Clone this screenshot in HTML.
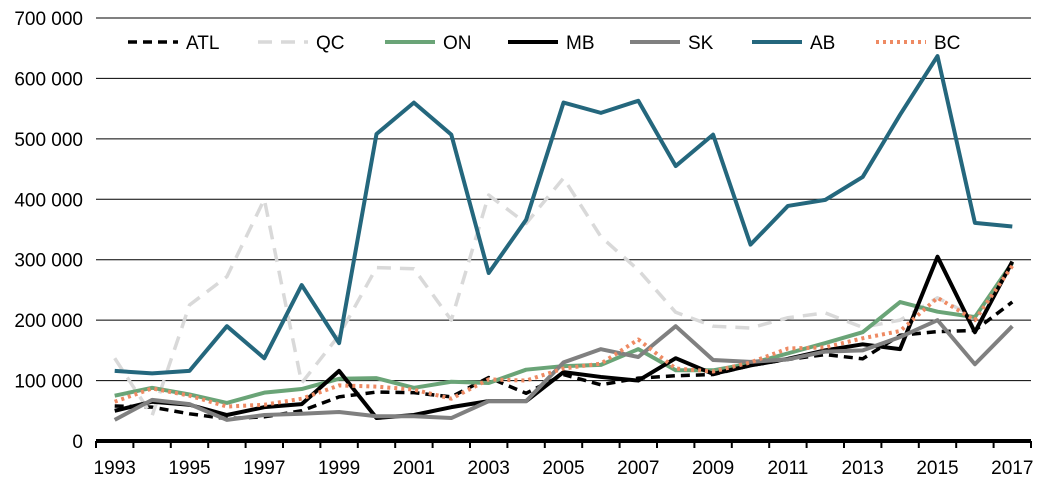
<!DOCTYPE html>
<html><head><meta charset="utf-8"><style>
body{margin:0;background:#fff;}
svg{display:block;font-family:"Liberation Sans",Arial,sans-serif;}
</style></head><body>
<svg id="chart" width="1051" height="480" xmlns="http://www.w3.org/2000/svg">
<g id="grid"></g>
<g id="yaxis"></g>
<g id="xaxis"></g>
<g id="series"></g>
<g id="legend"></g>
</svg>
<script>
const years=[1993,1994,1995,1996,1997,1998,1999,2000,2001,2002,2003,2004,2005,2006,2007,2008,2009,2010,2011,2012,2013,2014,2015,2016,2017];
const yTicks=[0,100000,200000,300000,400000,500000,600000,700000];
const yTickLabels=["0","100 000","200 000","300 000","400 000","500 000","600 000","700 000"];
const ATL=[58,56,45,37,40,50,73,81,80,73,105,79,110,93,104,108,110,125,135,143,136,175,181,183,230];
const QC=[137,42,225,272,400,96,175,287,285,200,407,360,435,338,283,213,190,187,204,212,188,200,237,205,290];
const ON=[75,88,77,63,80,86,103,104,88,98,96,118,124,126,152,117,117,128,145,162,180,230,214,205,295];
const MB=[50,65,60,43,56,61,116,38,43,56,66,66,114,106,100,137,111,125,136,150,160,152,305,180,297];
const SK=[35,68,61,35,43,45,48,41,41,38,66,66,130,152,139,190,134,131,135,148,150,172,200,127,190];
const AB=[116,112,116,190,137,258,162,508,560,507,278,366,560,543,563,455,507,325,389,399,437,540,637,361,355];
const BC=[65,87,75,57,60,70,92,90,85,70,102,100,120,128,168,120,115,130,153,155,170,182,237,200,290];
const seriesNames=["ATL","QC","ON","MB","SK","AB","BC"];
const seriesData=[ATL,QC,ON,MB,SK,AB,BC];
const styles=[
 {c:"#000",w:3.5,d:"9,6"},{c:"#d9d9d9",w:3.5,d:"14,9"},{c:"#6aa477",w:4,d:""},
 {c:"#000",w:4,d:""},{c:"#808080",w:4,d:""},{c:"#24677d",w:4,d:""},{c:"#ee8a63",w:4,d:"3,4"}];
const NS="http://www.w3.org/2000/svg";
const X0=96,X1=1031,Y0=441,Y700=18;
const step=(X1-X0)/years.length;
function xs(i){return X0+step*(i+0.5);}
function ys(v){return Y0-(v/700000)*(Y0-Y700);}
function mk(t,a,p){const e=document.createElementNS(NS,t);for(const k in a)e.setAttribute(k,a[k]);p.appendChild(e);return e;}
const grid=document.getElementById('grid'),ya=document.getElementById('yaxis'),xa=document.getElementById('xaxis'),sg=document.getElementById('series'),lg=document.getElementById('legend');
yTicks.forEach((t,i)=>{
 if(t>0){const l=mk('line',{x1:X0,x2:X1,y1:ys(t),y2:ys(t),stroke:'#000','stroke-width':1},grid);
 
 }
 const tx=mk('text',{x:83,y:ys(t)+7,'text-anchor':'end','font-size':19},ya);tx.textContent=yTickLabels[i];
 
 
});
const ax=mk('line',{x1:X0,x2:X1,y1:Y0,y2:Y0,stroke:'#000','stroke-width':4},xa);


for(let i=0;i<=years.length;i++){const tk=mk('line',{x1:X0+step*i,x2:X0+step*i,y1:Y0,y2:Y0+7,stroke:'#000','stroke-width':2},xa);
 
 }
years.forEach((y,i)=>{if(i%2===0){const t=mk('text',{x:xs(i),y:474,'text-anchor':'middle','font-size':19},xa);t.textContent=y;
 
 }});
seriesData.forEach((d,s)=>{
 const st=styles[s];
 const p=mk('polyline',{points:d.map((v,i)=>xs(i)+','+ys(v*1000)).join(' '),fill:'none',stroke:st.c,'stroke-width':st.w,'stroke-dasharray':st.d,'stroke-linejoin':'round'},sg);
 
 
});
const lx=[128,258,385,508,630,752,876];
seriesNames.forEach((n,s)=>{
 const st=styles[s];
 const g=mk('g',{},lg);
 
 
 mk('line',{x1:lx[s],x2:lx[s]+50,y1:42,y2:42,stroke:st.c,'stroke-width':st.w,'stroke-dasharray':st.d},g);
 const t=mk('text',{x:lx[s]+58,y:49,'font-size':19},g);t.textContent=n;
});
</script>
</body></html>
